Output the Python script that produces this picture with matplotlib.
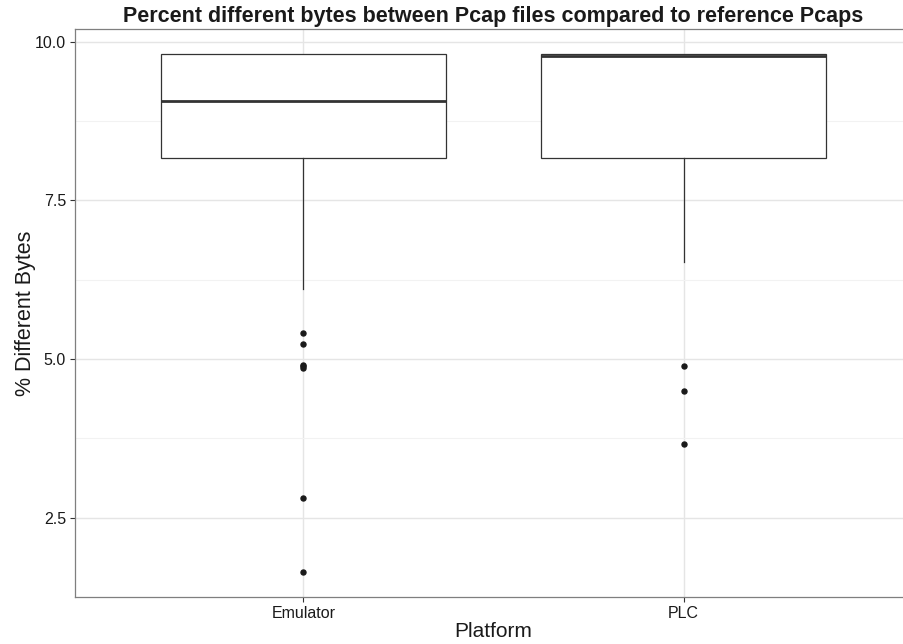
import matplotlib
matplotlib.use("Agg")
import matplotlib.pyplot as plt

plt.rcParams['font.family'] = ['Liberation Sans', 'DejaVu Sans']

categories = ["Emulator", "PLC"]
q1 = [8.17, 8.17]
median = [9.06, 9.77]
q3 = [9.80, 9.80]
whisker_low = [6.11, 6.53]
whisker_high = [9.80, 9.80]
outliers = [
    [5.41, 5.24, 4.91, 4.89, 4.86, 2.81, 1.65],
    [4.89, 4.49, 3.66],
]
y_ticks = [2.5, 5.0, 7.5, 10.0]
y_minor = [3.75, 6.25, 8.75]

fig = plt.figure(figsize=(9.04, 6.44), dpi=100)
ax = fig.add_axes([75/904, 1-597/644, (912-75)/904, (597-29)/644])

stats = []
for i, c in enumerate(categories):
    stats.append(dict(label=c, q1=q1[i], med=median[i], q3=q3[i],
                      whislo=whisker_low[i], whishi=whisker_high[i],
                      fliers=outliers[i]))

line_col = '#333333'
ax.bxp(stats, positions=[1, 2], widths=0.75, showfliers=True, showcaps=False,
       patch_artist=True,
       boxprops=dict(facecolor='white', edgecolor=line_col, linewidth=0.9),
       medianprops=dict(color=line_col, linewidth=2.0),
       whiskerprops=dict(color=line_col, linewidth=0.9),
       flierprops=dict(marker='o', markerfacecolor='#1a1a1a', markeredgecolor='#1a1a1a',
                       markersize=3.6, linestyle='none'),
       zorder=3)

ax.set_xlim(0.4, 2.6)
ax.set_ylim(1.25, 10.2)
ax.set_xticks([1, 2])
ax.set_xticklabels(categories)
ax.set_yticks(y_ticks)
ax.set_yticklabels([f"{v:.1f}" for v in y_ticks])
ax.set_yticks(y_minor, minor=True)

ax.grid(True, which='major', color='#e5e5e5', linewidth=1.0, zorder=0)
ax.grid(True, which='minor', axis='y', color='#f2f2f2', linewidth=0.8, zorder=0)
ax.set_axisbelow(True)

for s in ax.spines.values():
    s.set_color('#7f7f7f')
    s.set_linewidth(0.9)

ax.tick_params(axis='both', which='major', length=3.5, width=0.8, color='#333333',
               labelsize=11.5, labelcolor='#1a1a1a', pad=3)
ax.tick_params(axis='both', which='minor', length=0)

ax.set_xlabel("Platform", fontsize=15, color='#1a1a1a', labelpad=1)
ax.set_ylabel("% Different Bytes", fontsize=15.5, color='#1a1a1a', labelpad=-1)
ax.set_title("Percent different bytes between Pcap files compared to reference Pcaps",
             fontsize=15.5, fontweight='bold', color='#1a1a1a', pad=5)

fig.savefig("out.png", dpi=100)
